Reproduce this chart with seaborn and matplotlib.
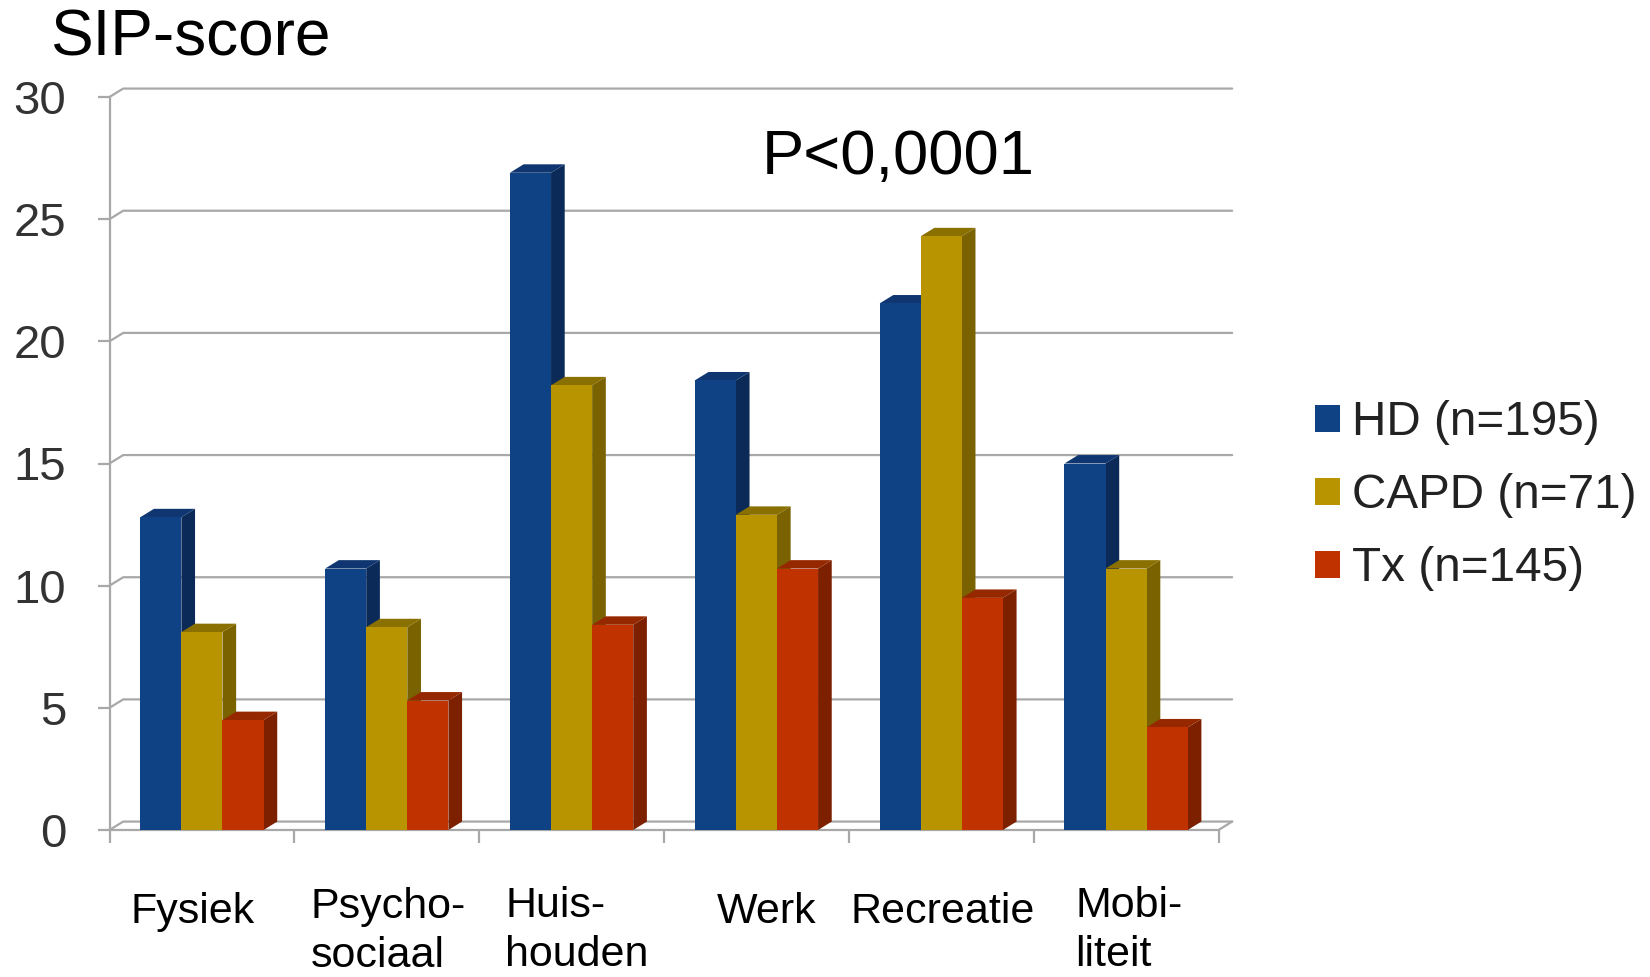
import pandas as pd
import seaborn as sns
import matplotlib.pyplot as plt
from matplotlib.patches import Polygon
from matplotlib.transforms import ScaledTranslation

categories = ['Fysiek', 'Psycho-\nsociaal', 'Huis-\nhouden', 'Werk', 'Recreatie', 'Mobi-\nliteit']
series = ['HD (n=195)', 'CAPD (n=71)', 'Tx (n=145)']
hd = [12.8, 10.7, 26.9, 18.4, 21.55, 15.0]
capd = [8.1, 8.3, 18.2, 12.9, 24.3, 10.7]
tx = [4.5, 5.3, 8.4, 10.7, 9.5, 4.2]

front = ['#0f4285', '#b89400', '#c03200']
side = ['#0b2a57', '#7a6200', '#7c2000']
top = ['#0f3670', '#8a7000', '#962800']
grid_col = '#a8a8a8'
depth_x, depth_y = 0.074, 0.345

# tick label shifts in points (x, y)
label_shift = [(-7, -0.5), (1, 3), (4, 4), (7, -0.5), (1, -0.5), (2, 4)]

sns.set_theme(style='white')
plt.rcParams['font.family'] = ['Liberation Sans', 'DejaVu Sans']

df = pd.DataFrame({'cat': categories * 3,
                   'group': [s for s in series for _ in categories],
                   'score': hd + capd + tx})

fig = plt.figure(figsize=(16.5, 9.77), dpi=100)
ax = fig.add_axes([109.5 / 1650, 1 - 830 / 977, 1109 / 1650, 733 / 977])
sns.barplot(data=df, x='cat', y='score', hue='group', palette=front, hue_order=series,
            order=categories, width=0.667, saturation=1, errorbar=None, ax=ax, zorder=5,
            linewidth=0, edgecolor='none')
ax.set_xlim(-0.5, 5.5)
ax.set_ylim(0, 30)
ax.set_xlabel('')
ax.set_ylabel('')

# fake 3d: side and top faces taken from the bars seaborn drew
bars = [p for c in ax.containers for p in c]
for n, bar in enumerate(bars):
    i = n // len(categories)
    x0, w, h = bar.get_x(), bar.get_width(), bar.get_height()
    x1 = x0 + w
    ax.add_patch(Polygon([(x1, 0), (x1 + depth_x, depth_y), (x1 + depth_x, h + depth_y), (x1, h)],
                         fc=side[i], ec='none', zorder=2 + i * 0.5, clip_on=False))
    ax.add_patch(Polygon([(x0, h), (x0 + depth_x, h + depth_y), (x1 + depth_x, h + depth_y), (x1, h)],
                         fc=top[i], ec='none', zorder=2.2 + i * 0.5, clip_on=False))

# back wall grid and the little diagonals from the axis
for t in range(0, 31, 5):
    ax.plot([-0.5, -0.5 + depth_x, 5.5 + depth_x], [t, t + depth_y, t + depth_y],
            color=grid_col, lw=1.6, clip_on=False, zorder=1)
ax.plot([5.5, 5.5 + depth_x], [0, depth_y], color=grid_col, lw=1.6, clip_on=False, zorder=1)

sns.despine(ax=ax, top=True, right=True)
for s in ['left', 'bottom']:
    ax.spines[s].set_color(grid_col)
    ax.spines[s].set_linewidth(1.6)
    ax.spines[s].set_zorder(1.5)

ax.set_yticks(range(0, 31, 5))
ax.tick_params(axis='y', length=9, width=1.6, color=grid_col, labelsize=34, labelcolor='#333333', pad=22, left=True)
ax.set_xticks([x - 0.5 for x in range(7)], minor=True)
ax.tick_params(axis='x', which='minor', length=9, width=1.6, color=grid_col, bottom=True)
ax.set_xticks(range(len(categories)))
ax.set_xticklabels(categories, fontsize=31, color='black', linespacing=1.3, multialignment='left')
ax.tick_params(axis='x', which='major', length=0, pad=44)
for lab, (sx, sy) in zip(ax.get_xticklabels(), label_shift):
    lab.set_transform(lab.get_transform() + ScaledTranslation(sx / 72, sy / 72, fig.dpi_scale_trans))

leg = ax.legend(loc='upper left', bbox_to_anchor=(1315 / 1650, 1 - 400 / 977), bbox_transform=fig.transFigure,
                frameon=False, fontsize=34.3, labelcolor='#222222', handlelength=0.515, handleheight=0.5,
                handletextpad=0.27, labelspacing=0.59, borderpad=0, borderaxespad=0, title=None)

fig.text(50 / 1650, 1 - 55 / 977, 'SIP-score', fontsize=46, color='black', va='baseline')
fig.text(762 / 1650, 1 - 174 / 977, 'P<0,0001', fontsize=45.5, color='black', va='baseline')

fig.savefig('out.png', dpi=100, facecolor='white')
